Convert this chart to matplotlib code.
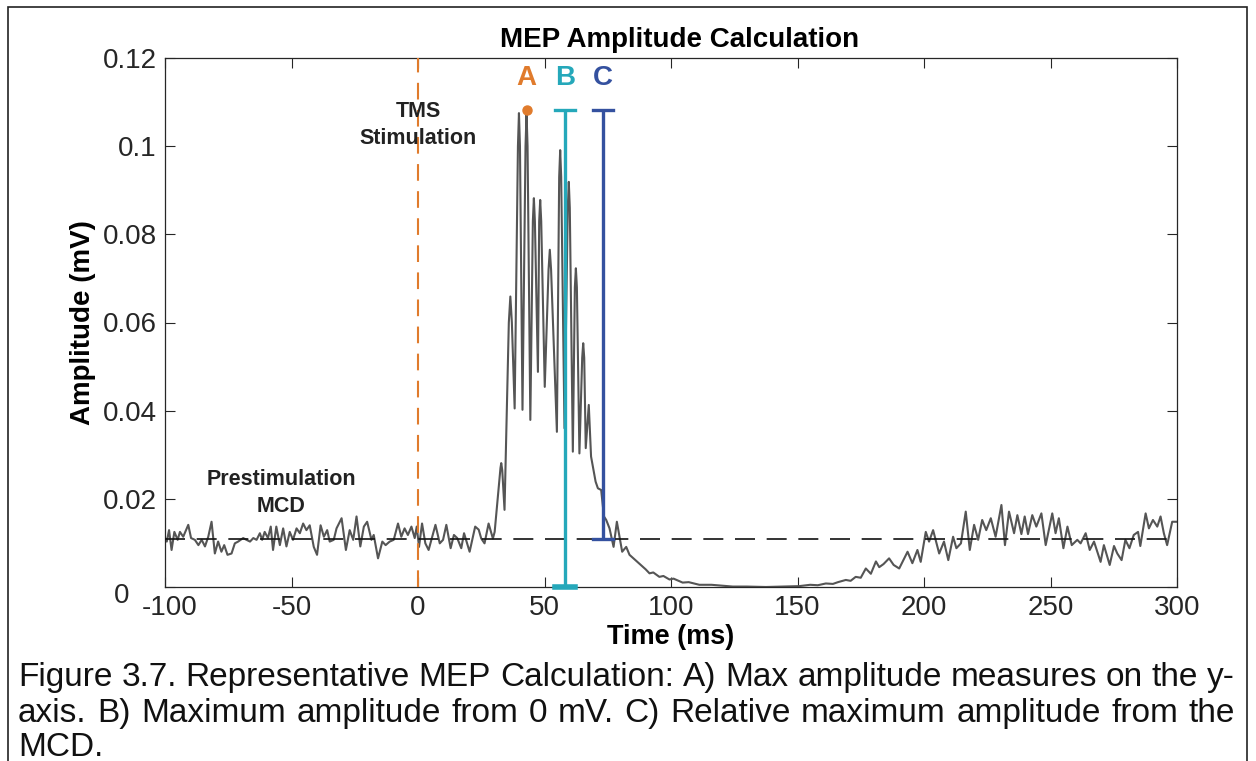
import matplotlib
matplotlib.use("Agg")
import matplotlib.pyplot as plt
import matplotlib.transforms as mtransforms
from matplotlib.patches import Rectangle

plt.rcParams['font.family'] = ['Liberation Sans', 'DejaVu Sans']
plt.rcParams['axes.unicode_minus'] = False

# EMG trace (time in ms, amplitude in mV)
pre_t = [-100, -99.3, -98.4, -97.4, -96.3, -95, -94.1, -92.8, -90.8, -89.7, -88.2, -86.8, -85.5, -84.2,
         -82.9, -81.6, -80.3, -79, -77.7, -76.6, -75.3, -73.7, -72.4, -71.1, -69.1, -67.8, -66.4, -65.1,
         -63.8, -62.5, -61.6, -60.6, -59.3, -58.2, -57.3, -56, -54.6, -53.3, -52, -50.7, -49.4, -48,
         -46.7, -45.4, -44.1, -42.8, -41.2, -39.9, -38.5, -37.2, -35.9, -34.9, -33.3, -32.2, -30.2,
         -28.5, -27, -25.6, -24.3, -22.8, -21.4, -20.1, -18.4, -17.5, -15.8, -14.1, -12.8, -11.2, -9.6,
         -7.9, -6.6, -5.3, -4, -2.6, -1.3]
pre_v = [0.0112, 0.0103, 0.0129, 0.0084, 0.0125, 0.0107, 0.0125, 0.0114, 0.0141, 0.0111, 0.0107, 0.0095,
         0.0107, 0.0092, 0.0114, 0.0148, 0.0076, 0.0103, 0.0080, 0.0095, 0.0073, 0.0076, 0.0099, 0.0103,
         0.0111, 0.0107, 0.0103, 0.0111, 0.0107, 0.0122, 0.0107, 0.0125, 0.0111, 0.0137, 0.0084, 0.0137,
         0.0095, 0.0133, 0.0092, 0.0125, 0.0107, 0.0133, 0.0122, 0.0144, 0.0129, 0.0140, 0.0091, 0.0073,
         0.0140, 0.0114, 0.0129, 0.0103, 0.0107, 0.0133, 0.0156, 0.0084, 0.0129, 0.0107, 0.0160, 0.0092,
         0.0137, 0.0148, 0.0107, 0.0118, 0.0065, 0.0103, 0.0095, 0.0103, 0.0107, 0.0144, 0.0114, 0.0133,
         0.0118, 0.0137, 0.0111]

post_t = [-0.5, 0.4, 1.6, 2.9, 4.2, 5.3, 6.9, 8.6, 9.9, 11.2, 12.9, 14.2, 15.5, 17.1, 18.2, 20.4, 22.6,
          24, 25, 26.3, 27.9, 29.6, 30.3]
post_v = [0.0137, 0.0091, 0.0144, 0.0099, 0.0084, 0.0107, 0.0141, 0.0099, 0.0107, 0.0141, 0.0088, 0.0118,
          0.0111, 0.0088, 0.0122, 0.0080, 0.0137, 0.0130, 0.0110, 0.0099, 0.0144, 0.0110, 0.0125]

mep_t = [32.6, 32.9, 33.3, 34.2, 35.9, 36.5, 37.1, 38.2, 39.5, 39.9, 40.3, 41.3, 42.5, 42.9, 43.3, 44.4,
         45.4, 45.8, 46.2, 47.4, 47.9, 48.3, 48.7, 50.1, 51.6, 52.1, 52.6, 54.9, 55.8, 56.2, 56.6, 57.9,
         59.2, 59.6, 60.0, 61.2, 62.0, 62.4, 62.8, 63.8, 64.9, 65.3, 65.7, 66.3, 67.5, 68.4, 70.2, 71.1,
         72.4, 73.5, 74.4, 75.7, 77.3, 78.6, 80.7, 82.3, 83.6]
mep_v = [0.0270, 0.0281, 0.0265, 0.0175, 0.0600, 0.0659, 0.0600, 0.0405, 0.1000, 0.1075, 0.1000, 0.0402,
         0.1000, 0.1075, 0.1000, 0.0379, 0.0830, 0.0882, 0.0830, 0.0488, 0.0830, 0.0878, 0.0830, 0.0454,
         0.0720, 0.0765, 0.0720, 0.0352, 0.0930, 0.0991, 0.0930, 0.0360, 0.0860, 0.0919, 0.0860, 0.0307,
         0.0680, 0.0723, 0.0680, 0.0303, 0.0520, 0.0553, 0.0520, 0.0315, 0.0413, 0.0296, 0.0239, 0.0224,
         0.0220, 0.0160, 0.0152, 0.0133, 0.0091, 0.0148, 0.0080, 0.0091, 0.0073]

silent_t = [86.5, 88.8, 90, 91.5, 93, 95.4, 97, 99.4, 101, 104.6, 107, 111.2, 116, 124.4, 130, 137.5, 145,
            150.7, 155, 158, 161.2, 164, 166, 169.1, 171, 173, 175, 177, 179, 181, 182.3, 184, 186.2, 188,
            190.2, 193.5, 195.4, 197.4, 198.7]
silent_v = [0.0058, 0.0046, 0.0040, 0.0031, 0.0033, 0.0023, 0.0025, 0.0017, 0.0019, 0.0010, 0.0011, 0.0005,
            0.0005, 0.0001, 0.0001, 0.0000, 0.0001, 0.0002, 0.0005, 0.0004, 0.0008, 0.0007, 0.0011, 0.0016,
            0.0014, 0.0023, 0.0021, 0.0042, 0.0030, 0.0058, 0.0045, 0.0052, 0.0065, 0.0050, 0.0042, 0.0080,
            0.0054, 0.0084, 0.0057]

late_t = [200.7, 202, 203.6, 206, 207.9, 209.6, 211.5, 212.8, 214.6, 216.5, 218.1, 219.8, 221.4, 223,
          224.6, 226.4, 228.3, 230.6, 232, 233.6, 235.6, 236.9, 238.5, 239.8, 241.1, 242.8, 244.4, 246.4,
          248.1, 250.7, 252, 253.3, 255.1, 256.7, 258.4, 260.6, 261.9, 263.9, 265.5, 267.2, 269.8, 271.1,
          273.4, 275.1, 276.4, 278.1, 279.6, 281.2, 282.9, 284.6, 285.5, 287.6, 288.9, 290.5, 292.2, 293.5,
          294.8, 296.1, 298.1, 300]
late_v = [0.0125, 0.0103, 0.0129, 0.0076, 0.0103, 0.0061, 0.0114, 0.0088, 0.0099, 0.0171, 0.0084, 0.0141,
          0.0107, 0.0152, 0.0129, 0.0156, 0.0114, 0.0186, 0.0095, 0.0171, 0.0122, 0.0163, 0.0120, 0.0160,
          0.0120, 0.0163, 0.0137, 0.0167, 0.0095, 0.0167, 0.0122, 0.0156, 0.0088, 0.0137, 0.0095, 0.0107,
          0.0099, 0.0122, 0.0084, 0.0103, 0.0057, 0.0095, 0.0050, 0.0093, 0.0076, 0.0061, 0.0107, 0.0088,
          0.0118, 0.0125, 0.0093, 0.0167, 0.0133, 0.0152, 0.0137, 0.0160, 0.0122, 0.0095, 0.0148, 0.0148]

time_ms = pre_t + post_t + mep_t + silent_t + late_t
amp_mv = pre_v + post_v + mep_v + silent_v + late_v

x_ticks = [-100, -50, 0, 50, 100, 150, 200, 250, 300]
y_ticks = [0, 0.02, 0.04, 0.06, 0.08, 0.1, 0.12]
y_tick_labels = ['0', '0.02', '0.04', '0.06', '0.08', '0.1', '0.12']

# annotation values
tms_time = 0
mcd_level = 0.0109
peak_amp = 0.1082
a_time, b_time, c_time = 42.9, 58, 73
cap_half = 4

orange = '#e07b2c'
cyan = '#25a8ba'
navy = '#34519f'

fig = plt.figure(figsize=(12.56, 7.61), dpi=100)
ax = fig.add_axes([165/1256, 1 - 587/761, 1012/1256, 529/761])

ax.plot(time_ms, amp_mv, color='#555555', lw=1.5, zorder=2)
ax.axhline(mcd_level, color='#111111', lw=1.2, dashes=(12, 7), zorder=3)
ax.axvline(tms_time, color=orange, lw=1.5, dashes=(8, 5), zorder=3)

# A: marker at peak
ax.plot([a_time], [peak_amp], 'o', color=orange, ms=6.5, zorder=5)
# B: from 0 to peak
ax.plot([b_time, b_time], [0, peak_amp], color=cyan, lw=2.4, zorder=4, solid_capstyle='butt')
ax.plot([b_time - cap_half, b_time + cap_half], [peak_amp, peak_amp], color=cyan, lw=2.4, zorder=4)
ax.plot([b_time - cap_half, b_time + cap_half], [0, 0], color=cyan, lw=4, zorder=4, clip_on=False)
# C: from MCD to peak
ax.plot([c_time, c_time], [mcd_level, peak_amp], color=navy, lw=2.4, zorder=4, solid_capstyle='butt')
ax.plot([c_time - cap_half, c_time + cap_half], [peak_amp, peak_amp], color=navy, lw=2.4, zorder=4)
ax.plot([c_time - cap_half, c_time + cap_half], [mcd_level, mcd_level], color=navy, lw=2.4, zorder=4)

label_y = 0.1155
ax.text(a_time, label_y, 'A', color=orange, fontsize=20, fontweight='bold', ha='center', va='center')
ax.text(b_time, label_y, 'B', color=cyan, fontsize=20, fontweight='bold', ha='center', va='center')
ax.text(c_time, label_y, 'C', color=navy, fontsize=20, fontweight='bold', ha='center', va='center')

ax.text(tms_time, 0.1048, 'TMS\nStimulation', fontsize=15.5, fontweight='bold', ha='center', va='center',
        color='#222222', linespacing=1.4)
ax.text(-54, 0.0213, 'Prestimulation\nMCD', fontsize=15.5, fontweight='bold', ha='center', va='center',
        color='#222222', linespacing=1.4)

ax.set_xlim(-100, 300)
ax.set_ylim(0, 0.12)
ax.set_xticks(x_ticks)
ax.set_xticklabels([str(x) for x in x_ticks])
ax.set_yticks(y_ticks)
ax.set_yticklabels(y_tick_labels)
ax.tick_params(direction='in', length=7, width=0.8, labelsize=20, top=True, right=True,
               colors='#262626', pad=6)
for s in ax.spines.values():
    s.set_color('#262626')
    s.set_linewidth(0.9)

# MATLAB-style nudge: "0" on y axis sits left/down, "-100" sits a bit right
y0_lab = ax.get_yticklabels()[0]
y0_lab.set_transform(y0_lab.get_transform() +
                     mtransforms.ScaledTranslation(-0.27, -0.06, fig.dpi_scale_trans))
x0_lab = ax.get_xticklabels()[0]
x0_lab.set_transform(x0_lab.get_transform() +
                     mtransforms.ScaledTranslation(0.05, 0, fig.dpi_scale_trans))

ax.set_xlabel('Time (ms)', fontsize=19.5, fontweight='bold', labelpad=2)
ax.set_ylabel('Amplitude (mV)', fontsize=20, fontweight='bold', labelpad=5)
ax.set_title('MEP Amplitude Calculation', fontsize=20, fontweight='bold', pad=8, x=0.508)

# border around the figure
fig.patches.append(Rectangle((8/1256, -0.1), (1247 - 8)/1256, 1.1 - 7/761, transform=fig.transFigure,
                             fill=False, edgecolor='#222222', lw=1.2))

# justified caption
caption_lines = [
    "Figure 3.7. Representative MEP Calculation: A) Max amplitude measures on the y-",
    "axis. B) Maximum amplitude from 0 mV. C) Relative maximum amplitude from the",
    "MCD.",
]
caption_base = [686, 722, 756]
x_left, x_right = 18, 1235

fig.canvas.draw()
r = fig.canvas.get_renderer()
for i, line in enumerate(caption_lines):
    words = line.split(' ')
    y = 1 - caption_base[i] / 761
    texts = [fig.text(0, y, w, fontsize=24, va='baseline', color='#111111') for w in words]
    widths = [t.get_window_extent(r).width for t in texts]
    if i < len(caption_lines) - 1 and len(words) > 1:
        gap = (x_right - x_left - sum(widths)) / (len(words) - 1)
    else:
        gap = 7
    x = x_left
    for t, w in zip(texts, widths):
        t.set_x(x / 1256)
        x += w + gap

fig.savefig('out.png', dpi=100)
